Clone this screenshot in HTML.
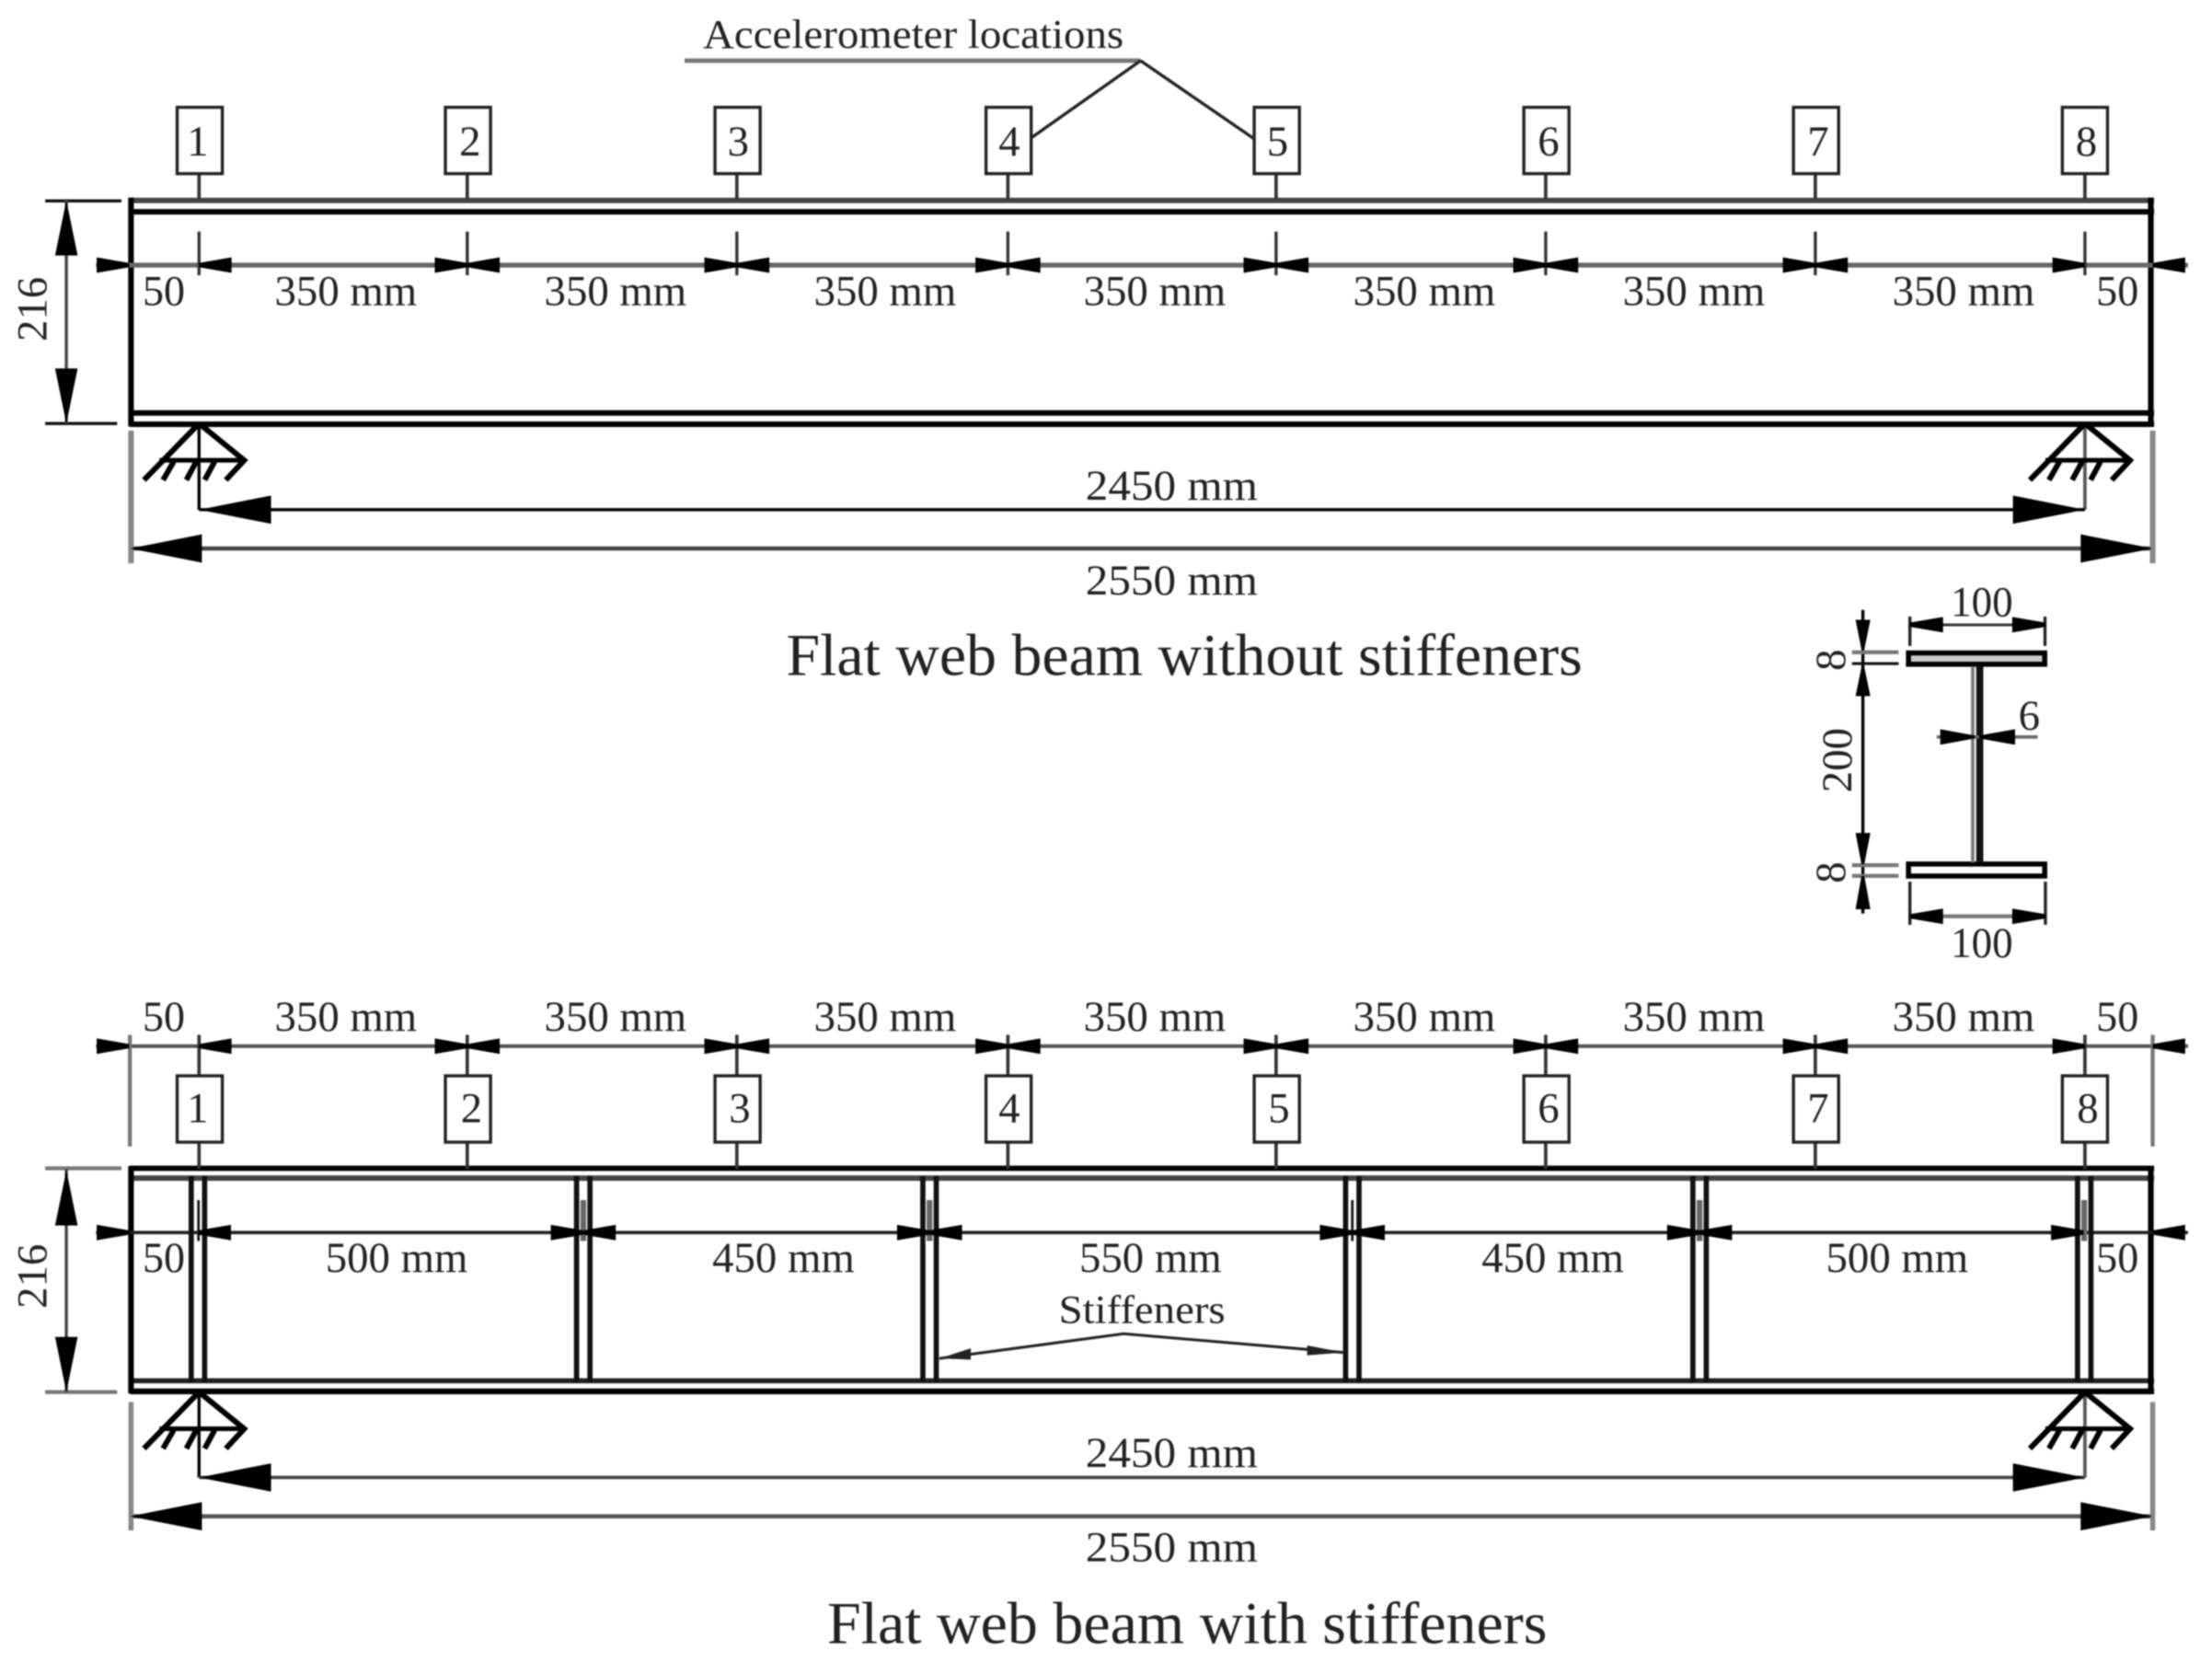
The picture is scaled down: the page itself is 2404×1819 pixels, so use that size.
<!DOCTYPE html>
<html><head><meta charset="utf-8"><style>
html,body{margin:0;padding:0;background:#fff;width:2404px;height:1819px;overflow:hidden}
svg{display:block;filter:blur(0.8px)}
text{font-family:"Liberation Serif",serif;fill:#222;font-size:30.500px}
.m{text-anchor:middle}
</style></head><body>
<svg xmlns="http://www.w3.org/2000/svg" width="2404" height="1819" viewBox="0 0 1567 1185.700">
<defs>
<path id="l" d="M0 -1.500L-23 -5.500V5.500L0 1.500Z" fill="#000"/>
<path id="r" d="M0 -1.500L23 -5.500V5.500L0 1.500Z" fill="#000"/>
<g id="tt"><use href="#l"/><use href="#r"/></g>
<g id="box"><rect x="-15.500" y="0" width="32" height="47" fill="#fff" stroke="#222" stroke-width="2.200"/></g>
<g id="sup" fill="none" stroke="#000" stroke-width="3.900">
<path d="M0 0L-39 40M0 0L32 26L19 40"/>
<path d="M-28 26H32" stroke-width="3.300"/>
<path d="M-18 27L-25.500 40M-2 27L-9 40M11 27L4 40"/>
</g>
<path id="va" d="M0 0L-8 39H8Z" fill="#000"/>
<path id="vb" d="M0 0L-8 -39H8Z" fill="#000"/>
<path id="bl" d="M0 0L51 -10V10Z" fill="#000"/>
<path id="br" d="M0 0L-51 -10V10Z" fill="#000"/>
<g id="stf" fill="none" stroke="#111" stroke-width="3.700"><path d="M-4.750 0V146M4.750 0V146"/></g>
</defs>

<!-- Top beam -->
<g fill="none" stroke="#111">
<path d="M92 142H1526" stroke-width="3.800" stroke="#444"/>
<path d="M92 150H1526" stroke-width="3.900" stroke="#000"/>
<path d="M92 292.500H1526M92 300.500H1526" stroke-width="3.900" stroke="#000"/>
<path d="M92.800 140V302M1523.700 140V302" stroke-width="4" stroke="#000"/>
<path d="M32 142.300H86M32 300H83" stroke-width="2.200"/>
<path d="M47 141V300" stroke-width="2.200" stroke="#444"/>
<path d="M68 187.800H1550" stroke-width="3.400" stroke="#666"/>
<path d="M141 123V141M331 123V141M522 123V141M714 123V141M904 123V141M1095 123V141M1286 123V141M1477 123V141" stroke-width="2.400" stroke="#333"/>
<path d="M141 164V195M331 164V195M522 164V195M714 164V195M904 164V195M1095 164V195M1286 164V195M1477 164V195" stroke-width="2.200" stroke="#333"/>
<path d="M141 300V361" stroke-width="2.200" stroke="#000"/>
<path d="M1477 300V361" stroke-width="2.400" stroke="#555"/>
<path d="M141 361H1477" stroke-width="2.200" stroke="#000"/>
<path d="M92 388.500H1525" stroke-width="3" stroke="#444"/>
<path d="M92.800 305V399M1525 305V399" stroke-width="4" stroke="#888"/>
<path d="M485 43H808" stroke-width="3.200" stroke="#777"/>
<path d="M808 43L730 98M808 43L888 98" stroke-width="2.200" stroke="#222"/>
</g>
<use href="#box" x="141" y="76"/><use href="#box" x="331" y="76"/><use href="#box" x="522" y="76"/><use href="#box" x="714" y="76"/><use href="#box" x="904" y="76"/><use href="#box" x="1095" y="76"/><use href="#box" x="1286" y="76"/><use href="#box" x="1476.500" y="76"/>
<text class="m" x="140" y="110">1</text><text class="m" x="333" y="110">2</text><text class="m" x="523" y="110">3</text><text class="m" x="715" y="110">4</text><text class="m" x="905" y="110">5</text><text class="m" x="1097" y="110">6</text><text class="m" x="1288" y="110">7</text><text class="m" x="1478" y="110">8</text>
<use href="#r" x="141" y="187.800"/><use href="#tt" x="331" y="187.800"/><use href="#tt" x="522" y="187.800"/><use href="#tt" x="714" y="187.800"/><use href="#tt" x="904" y="187.800"/><use href="#tt" x="1095" y="187.800"/><use href="#tt" x="1286" y="187.800"/><use href="#l" x="1477" y="187.800"/>
<use href="#l" x="91.500" y="187.800"/><use href="#r" x="1525" y="187.800"/>
<use href="#va" x="47" y="142"/><use href="#vb" x="47" y="300"/>
<use href="#sup" x="141" y="300"/><use href="#sup" x="1477" y="300"/>
<use href="#bl" x="141" y="361"/><use href="#br" x="1477" y="361"/><use href="#bl" x="92" y="388.500"/><use href="#br" x="1525" y="388.500"/>

<text x="498" y="34" textLength="298" lengthAdjust="spacingAndGlyphs" style="font-size:29px">Accelerometer locations</text>
<text x="101" y="216" textLength="30" lengthAdjust="spacingAndGlyphs">50</text>
<text class="m" x="245" y="216">350 mm</text><text class="m" x="436" y="216">350 mm</text><text class="m" x="627" y="216">350 mm</text><text class="m" x="818" y="216">350 mm</text><text class="m" x="1009" y="216">350 mm</text><text class="m" x="1200" y="216">350 mm</text><text class="m" x="1391" y="216">350 mm</text>
<text x="1485" y="216" textLength="30" lengthAdjust="spacingAndGlyphs">50</text>
<text class="m" transform="translate(33,219) rotate(-90)">216</text>
<text x="769" y="354" textLength="122" lengthAdjust="spacingAndGlyphs">2450 mm</text>
<text x="769" y="421" textLength="122" lengthAdjust="spacingAndGlyphs">2550 mm</text>
<text x="557" y="478" textLength="564" lengthAdjust="spacingAndGlyphs" style="font-size:42px">Flat web beam without stiffeners</text>

<!-- Cross-section -->
<g fill="none" stroke="#111">
<rect x="1352" y="462.500" width="96.500" height="8" stroke-width="3.600" stroke="#000" fill="#ccc"/>
<rect x="1352" y="612" width="96.500" height="8.500" stroke-width="3.600" stroke="#000" fill="#fff"/>
<path d="M1397.500 472V611" stroke-width="2.400" stroke="#777"/>
<path d="M1402.500 472V611" stroke-width="5" stroke="#111"/>
<path d="M1353 436.700V457.500M1448.700 436.700V457.500M1353 624.500V655M1449 624.500V655" stroke-width="2.200" stroke="#222"/>
<path d="M1353 442.600H1449" stroke-width="2" stroke="#333"/>
<path d="M1353 649H1449" stroke-width="2.800" stroke="#777"/>
<path d="M1319.700 432V647" stroke-width="2.200" stroke="#000"/>
<path d="M1312 462H1345M1312 612.800H1345M1312 620.400H1345" stroke-width="2.800" stroke="#777"/>
<path d="M1312 470H1345" stroke-width="2" stroke="#111"/>
<path d="M1372 522H1443.500" stroke-width="2.400" stroke="#666"/>
</g>
<path d="M1353 441L1376.500 437V448L1353 444ZM1449 441L1425.500 437V448L1449 444ZM1353 647.500L1376.500 643.500V654.500L1353 650.500ZM1449 647.500L1425.500 643.500V654.500L1449 650.500Z" fill="#000"/>
<path d="M1318.700 460L1314.500 439H1325L1320.700 460ZM1318.700 472.700L1314.500 493H1325L1320.700 472.700ZM1318.700 612L1314.500 590H1325L1320.700 612ZM1318.700 620.500L1314.500 644H1325L1320.700 620.500Z" fill="#000"/>
<path d="M1399 521L1374.500 516.500V527.500L1399 523ZM1402 521L1427.500 516.500V527.500L1402 523Z" fill="#000"/>
<text x="1382" y="436.500" textLength="44" lengthAdjust="spacingAndGlyphs">100</text>
<text x="1382" y="678" textLength="44" lengthAdjust="spacingAndGlyphs">100</text>
<text class="m" x="1437.500" y="517">6</text>
<text class="m" transform="translate(1311.500,538.500) rotate(-90)">200</text>
<text class="m" transform="translate(1307,467.500) rotate(-90)">8</text>
<text class="m" transform="translate(1307,618) rotate(-90)">8</text>

<!-- Bottom beam -->
<g fill="none" stroke="#111">
<path d="M92 827.500H1526" stroke-width="3.800" stroke="#000"/>
<path d="M92 834.500H1526" stroke-width="3.800" stroke="#444"/>
<path d="M92 978H1526" stroke-width="3.600" stroke="#222"/>
<path d="M92 985.500H1526" stroke-width="4" stroke="#000"/>
<path d="M92.800 826V987M1523.700 826V987" stroke-width="4" stroke="#000"/>
<path d="M32 827.500H86M32 986H83" stroke-width="2.800" stroke="#777"/>
<path d="M47 828V986" stroke-width="2.200" stroke="#444"/>
<path d="M68 741H1550" stroke-width="2.600" stroke="#555"/>
<path d="M68 873H1550" stroke-width="2.400" stroke="#222"/>
<path d="M141 733V762M331 733V762M522 733V762M714 733V762M904 733V762M1095 733V762M1286 733V762M1477 733V762" stroke-width="2.400" stroke="#333"/>
<path d="M141 808V828M331 808V828M522 808V828M714 808V828M904 808V828M1095 808V828M1286 808V828M1477 808V828" stroke-width="2.400" stroke="#333"/>
<path d="M92 733V812M1525 733V812" stroke-width="2.800" stroke="#777"/>
<path d="M141 986V1046.500" stroke-width="2.200" stroke="#000"/>
<path d="M1477 986V1046.500" stroke-width="2.400" stroke="#555"/>
<path d="M141 1046.500H1477" stroke-width="2.400" stroke="#444"/>
<path d="M92 1074H1525" stroke-width="3" stroke="#555"/>
<path d="M92.800 993V1084M1525 993V1084" stroke-width="3.600" stroke="#888"/>
</g>
<use href="#stf" x="140.200" y="833"/><use href="#stf" x="413.200" y="833"/><use href="#stf" x="658.500" y="833"/><use href="#stf" x="958" y="833"/><use href="#stf" x="1204" y="833"/><use href="#stf" x="1476.500" y="833"/>
<path d="M140.600 850V879M958 850V879" stroke="#111" stroke-width="1.800" fill="none"/>
<path d="M413.200 850V879M658.500 850V879M1204 850V879M1476.500 850V879" stroke="#666" stroke-width="4" fill="none"/>
<use href="#box" x="141" y="762"/><use href="#box" x="331" y="762"/><use href="#box" x="522" y="762"/><use href="#box" x="714" y="762"/><use href="#box" x="904" y="762"/><use href="#box" x="1095" y="762"/><use href="#box" x="1286" y="762"/><use href="#box" x="1476.500" y="762"/>
<text class="m" x="140" y="795">1</text><text class="m" x="334" y="795">2</text><text class="m" x="524" y="795">3</text><text class="m" x="715" y="795">4</text><text class="m" x="906" y="795">5</text><text class="m" x="1097" y="795">6</text><text class="m" x="1288" y="795">7</text><text class="m" x="1479" y="795">8</text>
<use href="#r" x="141" y="741"/><use href="#tt" x="331" y="741"/><use href="#tt" x="522" y="741"/><use href="#tt" x="714" y="741"/><use href="#tt" x="904" y="741"/><use href="#tt" x="1095" y="741"/><use href="#tt" x="1286" y="741"/><use href="#l" x="1477" y="741"/>
<use href="#l" x="91.500" y="741"/><use href="#r" x="1525" y="741"/>
<use href="#r" x="140.600" y="873"/><use href="#tt" x="413.200" y="873"/><use href="#tt" x="658.500" y="873"/><use href="#tt" x="958" y="873"/><use href="#tt" x="1204" y="873"/><use href="#l" x="1476" y="873"/>
<use href="#l" x="91.500" y="873"/><use href="#r" x="1525" y="873"/>
<use href="#va" x="47" y="829"/><use href="#vb" x="47" y="986"/>
<use href="#sup" x="141" y="986"/><use href="#sup" x="1477" y="986"/>
<use href="#bl" x="141" y="1046.500"/><use href="#br" x="1477" y="1046.500"/><use href="#bl" x="92" y="1074"/><use href="#br" x="1525" y="1074"/>
<path d="M665.400 962.200L796 944.700L952 958" fill="none" stroke="#222" stroke-width="2"/>
<path d="M665.400 962.200L687.700 955V963ZM952 958L926 953V960Z" fill="#222"/>

<text x="101" y="730" textLength="30" lengthAdjust="spacingAndGlyphs">50</text>
<text class="m" x="245" y="730">350 mm</text><text class="m" x="436" y="730">350 mm</text><text class="m" x="627" y="730">350 mm</text><text class="m" x="818" y="730">350 mm</text><text class="m" x="1009" y="730">350 mm</text><text class="m" x="1200" y="730">350 mm</text><text class="m" x="1391" y="730">350 mm</text>
<text x="1485" y="730" textLength="30" lengthAdjust="spacingAndGlyphs">50</text>
<text x="101" y="901" textLength="30" lengthAdjust="spacingAndGlyphs">50</text>
<text class="m" x="281" y="901">500 mm</text><text class="m" x="555" y="901">450 mm</text><text class="m" x="815" y="901">550 mm</text><text class="m" x="1100" y="901">450 mm</text><text class="m" x="1344" y="901">500 mm</text>
<text x="1485" y="901" textLength="30" lengthAdjust="spacingAndGlyphs">50</text>
<text x="750" y="937" textLength="118" lengthAdjust="spacingAndGlyphs" style="font-size:28px">Stiffeners</text>
<text class="m" transform="translate(33,904) rotate(-90)">216</text>
<text x="769" y="1039" textLength="122" lengthAdjust="spacingAndGlyphs">2450 mm</text>
<text x="769" y="1106" textLength="122" lengthAdjust="spacingAndGlyphs">2550 mm</text>
<text x="586" y="1164" textLength="510" lengthAdjust="spacingAndGlyphs" style="font-size:42px">Flat web beam with stiffeners</text>
</svg>
</body></html>
